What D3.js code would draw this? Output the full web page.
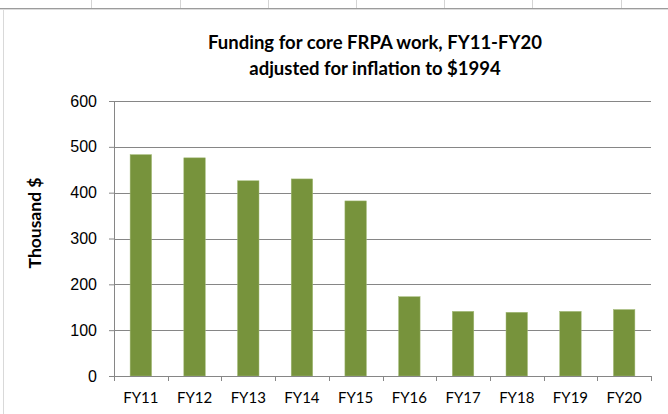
<!DOCTYPE html>
<html>
<head>
<meta charset="utf-8">
<script src="https://cdn.jsdelivr.net/npm/d3@7"></script>
<style>
  html, body { margin: 0; padding: 0; background: #fff; }
  svg { display: block; font-family: Lato, "Liberation Sans", sans-serif; }
</style>
</head>
<body>
<svg id="chart" width="668" height="414"></svg>
<script>
// Chart data
const years = ["FY11", "FY12", "FY13", "FY14", "FY15", "FY16", "FY17", "FY18", "FY19", "FY20"];
const funding = [483, 476, 426, 430, 382, 173, 141, 139, 141, 145];
const yTicks = [0, 100, 200, 300, 400, 500, 600];
const titleLines = ["Funding for core FRPA work, FY11-FY20", "adjusted for inflation to $1994"];
const yLabel = "Thousand $";

const W = 668, H = 414;
const margin = { top: 101, right: 17, bottom: 38, left: 114 };
const width = W - margin.left - margin.right;
const height = H - margin.top - margin.bottom;

const svg = d3.select("#chart");

// Spreadsheet cells peeking above the chart object
const cellLines = [91, 180, 268, 356, 444, 532, 621];
svg.selectAll(".cell")
  .data(cellLines)
  .enter()
  .append("line")
  .attr("x1", (d) => d + 0.5)
  .attr("x2", (d) => d + 0.5)
  .attr("y1", 0)
  .attr("y2", 8)
  .attr("stroke", "#d4d4d4");
svg.append("line")
  .attr("x1", 0).attr("x2", W).attr("y1", 8.5).attr("y2", 8.5)
  .attr("stroke", "#9c9c9c");
svg.append("line")
  .attr("x1", 0).attr("x2", W).attr("y1", 9.5).attr("y2", 9.5)
  .attr("stroke", "#dcdcdc");
// chart object left border
svg.append("line")
  .attr("x1", 3.5).attr("x2", 3.5).attr("y1", 10).attr("y2", H)
  .attr("stroke", "#d9d9d9");

// Title
svg.append("text")
  .attr("x", 375)
  .attr("text-anchor", "middle")
  .style("font-size", "18.5px")
  .style("font-weight", "bold")
  .attr("fill", "#000")
  .selectAll("tspan")
  .data(titleLines)
  .enter()
  .append("tspan")
  .attr("x", 375)
  .attr("y", (d, i) => 49 + i * 26)
  .text((d) => d);

const g = svg.append("g")
  .attr("transform", `translate(${margin.left},${margin.top})`);

const x = d3.scaleBand()
  .domain(years)
  .range([0, width])
  .paddingInner(0.6)
  .paddingOuter(0.3);

const y = d3.scaleLinear()
  .domain([0, 600])
  .range([height, 0]);

// Gridlines
g.selectAll(".grid")
  .data(yTicks.filter((d) => d > 0))
  .enter()
  .append("line")
  .attr("x1", 0)
  .attr("x2", width)
  .attr("y1", (d) => Math.round(y(d)) + 0.5)
  .attr("y2", (d) => Math.round(y(d)) + 0.5)
  .attr("stroke", "#868686")
  .attr("stroke-width", 1.2);

// Bars
g.selectAll(".bar")
  .data(years)
  .enter()
  .append("rect")
  .attr("x", (d) => x(d))
  .attr("width", x.bandwidth())
  .attr("y", (d, i) => y(funding[i]))
  .attr("height", (d, i) => height - y(funding[i]))
  .attr("fill", "#77933c")
  .attr("stroke", "#a3bb78")
  .attr("stroke-width", 0.5);

// Y axis
const yAxis = g.append("g")
  .call(d3.axisLeft(y).tickValues(yTicks).tickSize(5).tickPadding(12));
yAxis.select(".domain").attr("stroke", "#868686");
yAxis.selectAll(".tick line").attr("stroke", "#868686");
yAxis.selectAll(".tick text")
  .style("font-size", "16px")
  .attr("fill", "#000");

// X axis: line with tick marks between categories
const xAxis = g.append("g").attr("transform", `translate(0,${height})`);
xAxis.append("line")
  .attr("x1", 0).attr("x2", width)
  .attr("y1", 0.5).attr("y2", 0.5)
  .attr("stroke", "#868686");
xAxis.selectAll(".xtick")
  .data(d3.range(years.length + 1))
  .enter()
  .append("line")
  .attr("x1", (i) => Math.round(i * x.step()) + 0.5)
  .attr("x2", (i) => Math.round(i * x.step()) + 0.5)
  .attr("y1", 0)
  .attr("y2", 5)
  .attr("stroke", "#868686");
xAxis.selectAll(".xlabel")
  .data(years)
  .enter()
  .append("text")
  .attr("x", (d) => x(d) + x.bandwidth() / 2)
  .attr("y", 27)
  .attr("text-anchor", "middle")
  .style("font-size", "15px")
  .attr("fill", "#000")
  .text((d) => d);

// Y axis title
svg.append("text")
  .attr("transform", "translate(41,223) rotate(-90)")
  .attr("text-anchor", "middle")
  .style("font-size", "17.5px")
  .style("font-weight", "bold")
  .attr("fill", "#000")
  .text(yLabel);
</script>
</body>
</html>
